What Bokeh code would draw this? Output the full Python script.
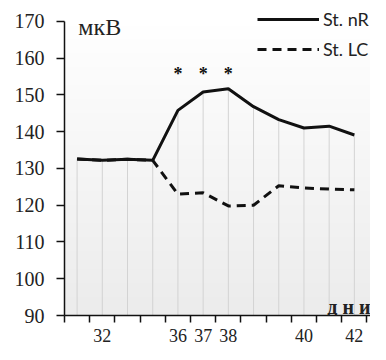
import numpy as np
from bokeh.plotting import figure
from bokeh.models import FixedTicker, Legend, LegendItem, Range1d, Label
from bokeh.core.properties import value
from bokeh.embed import file_html
from bokeh.resources import INLINE

# ---- data ----
positions = [1, 2, 3, 4, 5, 6, 7, 8, 9, 10, 11, 12]
day_labels = ["", "32", "", "", "36", "37", "38", "", "", "40", "", "42"]
st_nr = [132.6, 132.2, 132.5, 132.2, 145.8, 150.8, 151.7, 146.8, 143.3, 141.0, 141.5, 139.1]
st_lc = [132.6, 132.2, 132.5, 132.2, 123.0, 123.4, 119.8, 120.0, 125.3, 124.7, 124.4, 124.2]
sig_positions = [5, 6, 7]
sig_marks = ["*", "*", "*"]
y_ticks = [90, 100, 110, 120, 130, 140, 150, 160, 170]
series_names = ["St. nR", "St. LC"]
unit_label = "мкВ"
x_title = "д н и"

SERIF = "Liberation Serif"
X_START, X_END = 0.5, 12.64
Y_START, Y_TOP, Y_END = 90, 170, 173.24

p = figure(width=370, height=344, output_backend="svg", toolbar_location=None,
           x_range=Range1d(X_START, X_END), y_range=Range1d(Y_START, Y_END),
           min_border_left=64, min_border_right=0, min_border_top=9, min_border_bottom=27)
p.outline_line_color = None
p.xgrid.visible = False
p.ygrid.visible = False
p.background_fill_color = "white"
p.border_fill_color = "white"

# gradient background of plot area (only up to the top of the value axis)
rows = 64
shade = np.linspace(236, 255, rows).astype(np.uint32)
img = np.empty((rows, 2), dtype=np.uint32)
view = img.view(dtype=np.uint8).reshape((rows, 2, 4))
view[:, :, 0] = shade[:, None]
view[:, :, 1] = shade[:, None]
view[:, :, 2] = shade[:, None]
view[:, :, 3] = 255
p.image_rgba(image=[img], x=X_START, y=Y_START, dw=X_END - X_START, dh=Y_TOP - Y_START, level="underlay")

# drop lines
tops = [max(a, b) for a, b in zip(st_nr, st_lc)]
p.segment(x0=positions, y0=[Y_START] * len(positions), x1=positions, y1=tops,
          line_color="#d3d3d3", line_width=1)

r_nr = p.line(positions, st_nr, line_color="#111111", line_width=3)
r_lc = p.line(positions, st_lc, line_color="#111111", line_width=3, line_dash="9 6")

# significance asterisks
p.text(x=sig_positions, y=[155.6] * len(sig_positions), text=sig_marks,
       text_font=value(SERIF), text_font_style="bold", text_font_size="18px",
       text_align="center", text_baseline="alphabetic", text_color="#111111")

# axes
xa = p.xaxis[0]
boundaries = [v - 0.5 for v in positions] + [positions[-1] + 0.5]
xa.ticker = FixedTicker(ticks=positions, minor_ticks=boundaries)
xa.major_label_overrides = {pos: lab for pos, lab in zip(positions, day_labels)}
xa.major_tick_out = 0
xa.major_tick_in = 0
xa.minor_tick_out = 7
xa.minor_tick_in = 0
xa.minor_tick_line_color = "#111111"
xa.minor_tick_line_width = 1.5
xa.axis_line_color = "#111111"
xa.axis_line_width = 1.5
xa.major_label_standoff = 6
xa.major_label_text_font = SERIF
xa.major_label_text_font_size = "18px"
xa.major_label_text_color = "#222222"

ya = p.yaxis[0]
ya.ticker = FixedTicker(ticks=y_ticks)
ya.bounds = (Y_START, Y_TOP)
ya.major_tick_out = 8
ya.major_tick_in = 0
ya.minor_tick_out = 0
ya.minor_tick_in = 0
ya.major_tick_line_color = "#111111"
ya.major_tick_line_width = 1.5
ya.axis_line_color = "#111111"
ya.axis_line_width = 1.5
ya.major_label_standoff = 12
ya.major_label_text_font = SERIF
ya.major_label_text_font_size = "20px"
ya.major_label_text_color = "#222222"

p.add_layout(Label(x=1.05, y=168.5, text=unit_label, text_font=SERIF, text_font_size="24px",
                   text_baseline="middle", text_color="#222222"))
p.add_layout(Label(x=X_END, y=92.3, text=x_title, text_font=SERIF, text_font_size="20px",
                   text_font_style="bold", text_align="right", text_baseline="middle",
                   text_color="#222222"))

legend = Legend(items=[LegendItem(label=series_names[0], renderers=[r_nr]),
                       LegendItem(label=series_names[1], renderers=[r_lc])],
                location=(193, 255), glyph_width=62, glyph_height=20, spacing=8,
                label_standoff=4, padding=0, margin=0,
                background_fill_alpha=0, border_line_color=None,
                label_text_font="Lato", label_text_font_size="18px",
                label_text_color="#222222")
p.add_layout(legend)

open("out.html", "w").write(file_html(p, INLINE))
